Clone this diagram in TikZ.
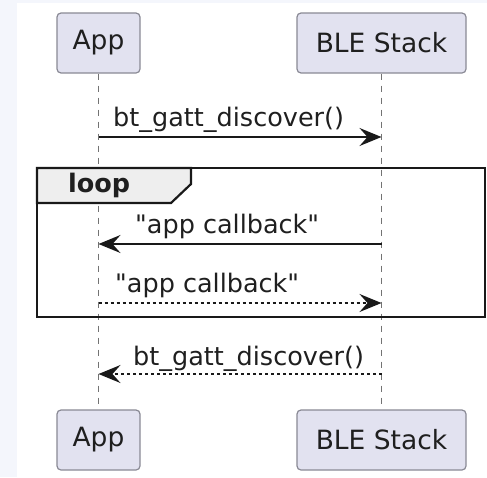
\documentclass[tikz,border=0pt]{standalone}
\usepackage{fontspec}
\setmainfont{DejaVu Sans}
\usetikzlibrary{arrows.meta, positioning}

\definecolor{partfill}{HTML}{E2E2F0}
\definecolor{partline}{HTML}{8A8A95}
\definecolor{pageback}{HTML}{F4F6FC}
\definecolor{tabfill}{HTML}{EEEEEE}

\begin{document}
\begin{tikzpicture}[
    x=1pt, y=-1pt,
    participant/.style={rectangle, rounded corners=4pt, draw=partline, fill=partfill, line width=1.2pt, minimum width=83pt, minimum height=60pt, inner sep=0pt, text=black!88, font=\fontsize{26.5}{30}\selectfont},
    lifeline/.style={draw=black!55, line width=1.2pt, dash pattern=on 6pt off 6pt},
    msg/.style={-{Stealth[length=22pt, width=18pt, inset=8pt]}, line width=1.7pt, draw=black!90},
    reply/.style={msg, dash pattern=on 3pt off 3pt},
    msglabel/.style={inner sep=0pt, anchor=base west, text=black!88, font=\fontsize{25.5}{30}\selectfont},
    frame/.style={draw=black!90, line width=2.6pt}
]
\useasboundingbox (0,0) rectangle (487,477);
\fill[pageback] (0,0) rectangle (487,477);
\fill[white] (17,3) rectangle (487,477);

\node[participant] (appTop) at (98.5,43) {App};
\node[participant, minimum width=169pt] (bleTop) at (381.5,43) {BLE Stack};
\node[participant] (appBot) at (98.5,440) {App};
\node[participant, minimum width=169pt] (bleBot) at (381.5,440) {BLE Stack};

\draw[lifeline] (appTop) -- (appBot);
\draw[lifeline] (bleTop) -- (bleBot);

\coordinate (app1) at (appTop |- 0,137);
\coordinate (ble1) at (bleTop |- 0,137);
\coordinate (app2) at (appTop |- 0,244);
\coordinate (ble2) at (bleTop |- 0,244);
\coordinate (app3) at (appTop |- 0,303);
\coordinate (ble3) at (bleTop |- 0,303);
\coordinate (app4) at (appTop |- 0,374);
\coordinate (ble4) at (bleTop |- 0,374);

\draw[msg] (app1) -- (ble1);
\node[msglabel] (discover) at (113,126) {bt\_gatt\_discover()};

\draw[frame] (37,168) rectangle (485,317);
\draw[frame, fill=tabfill, line width=2.2pt] (37,168) -- (191,168) -- (191,184) -- (171,203) -- (37,203) -- cycle;
\node[msglabel, font=\fontsize{25.5}{30}\selectfont\bfseries] (loopTag) at (68,192) {loop};

\draw[msg] (ble2) -- (app2);
\node[msglabel] (callback) at (135,233) {\textquotedbl app callback\textquotedbl};

\draw[reply] (app3) -- (ble3);
\node[msglabel] (callbackBack) at (115,292) {\textquotedbl app callback\textquotedbl};

\draw[reply] (ble4) -- (app4);
\node[msglabel] (discoverBack) at (133,365) {bt\_gatt\_discover()};

\end{tikzpicture}
\end{document}
